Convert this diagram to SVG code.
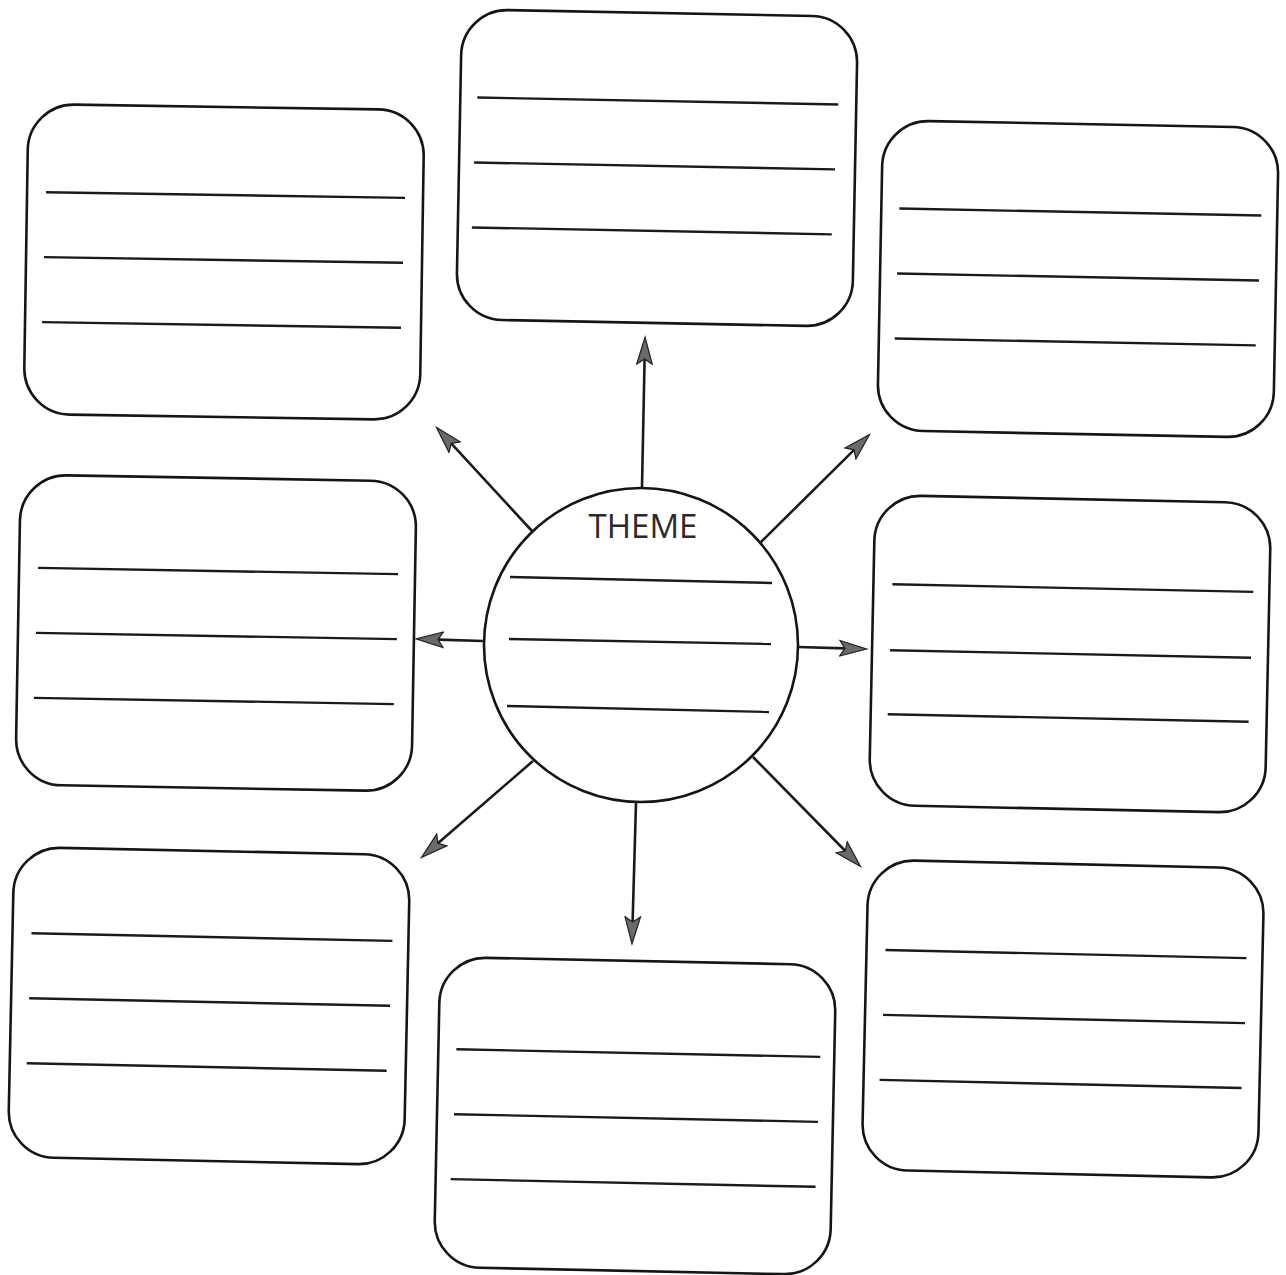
<svg xmlns="http://www.w3.org/2000/svg" width="1286" height="1275" viewBox="0 0 1286 1275">
<style>
.box{fill:none;stroke:#151515;stroke-width:2.6}
.ln{stroke:#1a1a1a;stroke-width:2.4;fill:none}
.arr{stroke:#1a1a1a;stroke-width:2.6;fill:none;marker-end:url(#ah)}
.theme{font-family:"Open Sans","Liberation Sans",sans-serif;font-size:33px;fill:#2a2a2a;text-anchor:middle}
</style>
<defs>
<marker id="ah" markerUnits="userSpaceOnUse" markerWidth="30" markerHeight="20" viewBox="-1 -9 29 18" refX="5" refY="0" orient="auto">
<path d="M26,0 L0,-7.5 L5,0 L0,7.5 Z" fill="#6a6a6a" stroke="#222" stroke-width="1.2" stroke-linejoin="miter"/>
</marker>
<g id="card">
<rect class="box" x="-198" y="-155" width="396" height="310" rx="46" ry="46"/>
</g>
</defs>
<rect width="1286" height="1275" fill="#ffffff"/>

<g id="box-top">
<g transform="translate(657,168) rotate(1.1)">
<use href="#card"/>
<line class="ln" x1="-181" y1="-67" x2="180" y2="-67"/>
<line class="ln" x1="-183" y1="-2" x2="178" y2="-2"/>
<line class="ln" x1="-184" y1="63" x2="176" y2="63"/>
</g>
</g>

<g id="box-top-left">
<g transform="translate(224,262) rotate(0.9)">
<use href="#card"/>
<line class="ln" x1="-179" y1="-67" x2="180" y2="-67"/>
<line class="ln" x1="-180" y1="-2" x2="179" y2="-2"/>
<line class="ln" x1="-181" y1="63" x2="178" y2="63"/>
</g>
</g>

<g id="box-top-right">
<g transform="translate(1078,279) rotate(1.1)">
<use href="#card"/>
<line class="ln" x1="-180" y1="-67" x2="182" y2="-67"/>
<line class="ln" x1="-181" y1="-2" x2="181" y2="-2"/>
<line class="ln" x1="-182" y1="63" x2="179" y2="63"/>
</g>
</g>

<g id="box-mid-left">
<g transform="translate(216,633) rotate(1)">
<use href="#card"/>
<line class="ln" x1="-179" y1="-62" x2="181" y2="-62"/>
<line class="ln" x1="-180" y1="3" x2="181" y2="3"/>
<line class="ln" x1="-181" y1="68" x2="179" y2="68"/>
</g>
</g>

<g id="box-mid-right">
<g transform="translate(1070,654) rotate(1.2)">
<use href="#card"/>
<line class="ln" x1="-179" y1="-66" x2="182" y2="-66"/>
<line class="ln" x1="-180" y1="0" x2="181" y2="0"/>
<line class="ln" x1="-181" y1="64" x2="180" y2="64"/>
</g>
</g>

<g id="box-bottom-left">
<g transform="translate(209,1006) rotate(1.2)">
<use href="#card"/>
<line class="ln" x1="-179" y1="-69" x2="182" y2="-69"/>
<line class="ln" x1="-180" y1="-4" x2="181" y2="-4"/>
<line class="ln" x1="-181" y1="61" x2="179" y2="61"/>
</g>
</g>

<g id="box-bottom">
<g transform="translate(635,1116) rotate(1.2)">
<use href="#card"/>
<line class="ln" x1="-180" y1="-63" x2="184" y2="-63"/>
<line class="ln" x1="-181" y1="2" x2="183" y2="2"/>
<line class="ln" x1="-183" y1="67" x2="182" y2="67"/>
</g>
</g>

<g id="box-bottom-right">
<g transform="translate(1063,1019) rotate(1.3)">
<use href="#card"/>
<line class="ln" x1="-179" y1="-65" x2="182" y2="-65"/>
<line class="ln" x1="-180" y1="0" x2="182" y2="0"/>
<line class="ln" x1="-182" y1="65" x2="180" y2="65"/>
</g>
</g>

<g id="theme">
<circle cx="641" cy="645" r="157" fill="none" stroke="#151515" stroke-width="2.6"/>
<text class="theme" x="643" y="538">THEME</text>
<line class="ln" x1="510" y1="577" x2="772" y2="583"/>
<line class="ln" x1="509" y1="639" x2="771" y2="644"/>
<line class="ln" x1="507" y1="706" x2="769" y2="712"/>
</g>

<g id="connectors">
<line class="arr" x1="642" y1="487" x2="644.6" y2="359"/>
<line class="arr" x1="532" y1="531" x2="451.2" y2="443.4"/>
<line class="arr" x1="760" y1="543" x2="854.1" y2="449.8"/>
<line class="arr" x1="483" y1="641" x2="438" y2="639.6"/>
<line class="arr" x1="798" y1="647" x2="845" y2="648.4"/>
<line class="arr" x1="533" y1="761" x2="437.9" y2="843.3"/>
<line class="arr" x1="636" y1="803" x2="632.6" y2="922"/>
<line class="arr" x1="753" y1="757" x2="845.3" y2="851"/>
</g>
</svg>
